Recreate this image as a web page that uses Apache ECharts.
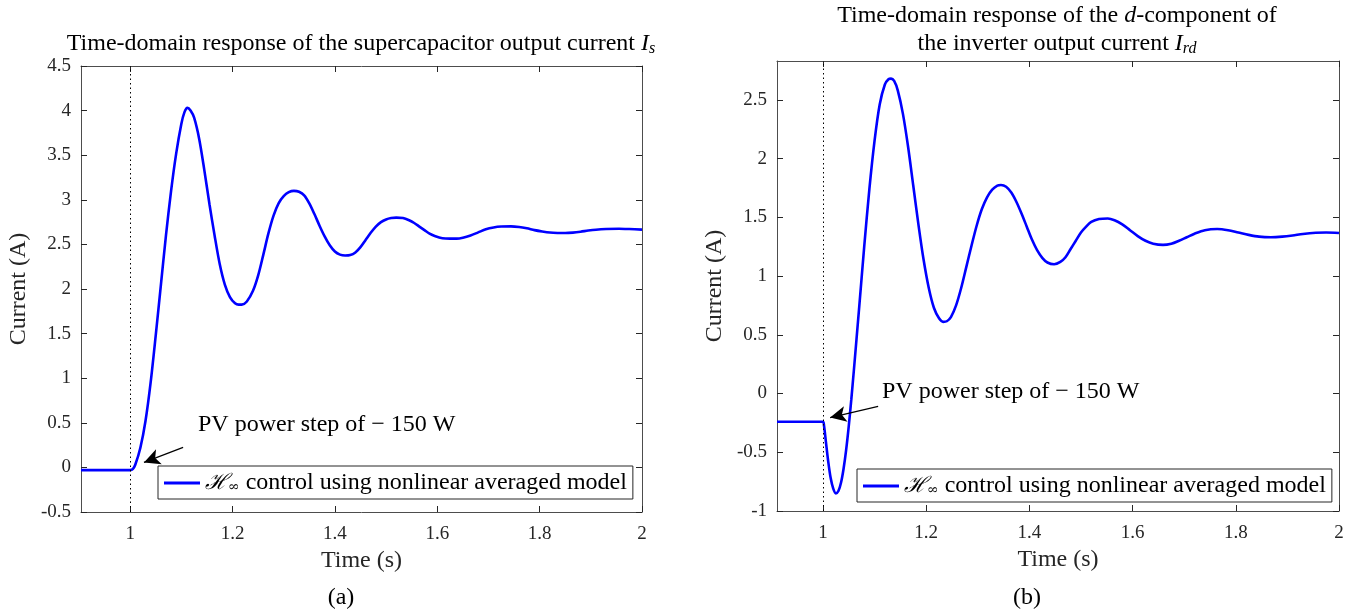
<!DOCTYPE html>
<html><head><meta charset="utf-8">
<script src="https://cdn.jsdelivr.net/npm/echarts@6/dist/echarts.min.js"></script>
<style>html,body{margin:0;padding:0;background:#fff}#c{width:1356px;height:614px}</style>
</head><body><div id="c"></div>
<script>
// ---- data ----
const timeA = [0.904,1.000,1.005,1.010,1.020,1.030,1.040,1.050,1.060,1.070,1.080,1.090,1.100,1.106,1.112,1.118,1.125,1.135,1.145,1.155,1.165,1.175,1.185,1.195,1.205,1.212,1.218,1.228,1.240,1.250,1.260,1.270,1.280,1.290,1.300,1.310,1.320,1.330,1.340,1.350,1.360,1.370,1.380,1.390,1.400,1.410,1.420,1.430,1.440,1.450,1.460,1.470,1.480,1.490,1.500,1.510,1.520,1.533,1.545,1.555,1.565,1.575,1.585,1.595,1.610,1.625,1.638,1.650,1.665,1.680,1.695,1.710,1.725,1.744,1.760,1.775,1.790,1.805,1.820,1.835,1.850,1.865,1.880,1.895,1.910,1.930,1.955,1.975,2.000];
const currentA = [-0.03,-0.03,-0.02,0.03,0.22,0.52,0.95,1.48,2.04,2.6,3.1,3.52,3.85,3.98,4.03,4.0,3.92,3.68,3.33,2.95,2.6,2.28,2.05,1.91,1.84,1.825,1.825,1.86,1.98,2.15,2.38,2.62,2.82,2.96,3.04,3.085,3.1,3.09,3.05,2.96,2.84,2.71,2.59,2.49,2.42,2.385,2.375,2.38,2.41,2.47,2.55,2.63,2.7,2.75,2.78,2.795,2.8,2.795,2.77,2.74,2.70,2.66,2.62,2.595,2.57,2.565,2.565,2.575,2.6,2.635,2.67,2.69,2.70,2.702,2.695,2.68,2.66,2.645,2.633,2.628,2.627,2.632,2.642,2.655,2.665,2.672,2.675,2.672,2.666];

const timeB = [0.911,1.000,1.002,1.006,1.010,1.015,1.020,1.025,1.030,1.035,1.040,1.045,1.050,1.055,1.060,1.070,1.080,1.090,1.100,1.110,1.120,1.127,1.132,1.138,1.145,1.155,1.165,1.175,1.185,1.195,1.205,1.215,1.225,1.233,1.240,1.248,1.258,1.268,1.278,1.288,1.298,1.308,1.318,1.328,1.338,1.345,1.355,1.365,1.375,1.385,1.395,1.405,1.415,1.425,1.435,1.448,1.460,1.470,1.480,1.490,1.500,1.510,1.520,1.535,1.552,1.565,1.580,1.595,1.610,1.625,1.640,1.659,1.675,1.690,1.705,1.720,1.740,1.764,1.785,1.805,1.825,1.845,1.868,1.890,1.910,1.930,1.955,1.975,2.000];
const currentB = [-0.24,-0.24,-0.27,-0.42,-0.57,-0.72,-0.81,-0.85,-0.83,-0.76,-0.64,-0.48,-0.28,-0.05,0.2,0.72,1.25,1.74,2.15,2.46,2.63,2.675,2.68,2.66,2.58,2.38,2.1,1.77,1.44,1.14,0.9,0.73,0.64,0.61,0.615,0.65,0.75,0.9,1.08,1.26,1.43,1.57,1.67,1.735,1.77,1.775,1.76,1.71,1.63,1.53,1.42,1.31,1.22,1.155,1.115,1.1,1.12,1.16,1.23,1.3,1.37,1.42,1.46,1.485,1.49,1.475,1.44,1.39,1.34,1.3,1.275,1.265,1.275,1.3,1.33,1.36,1.39,1.4,1.39,1.37,1.35,1.335,1.33,1.335,1.345,1.358,1.368,1.37,1.366];

const xTicks = [1, 1.2, 1.4, 1.6, 1.8, 2];
const yTicksA = [-0.5, 0, 0.5, 1, 1.5, 2, 2.5, 3, 3.5, 4, 4.5];
const yTicksB = [-1, -0.5, 0, 0.5, 1, 1.5, 2, 2.5];
const stepTime = 1;
const arrowA = [[1.1035, 0.224], [1.027, 0.056]];
const arrowB = [[1.107, -0.11], [1.014, -0.205]];

// ---- chart ----
const FONT = "'Liberation Serif', 'DejaVu Serif', serif";
const TXT = '#262626';
const pair = (xs, ys) => xs.map((x, i) => [x, ys[i]]);

function xAxisPair(grid, min, max) {
  const base = {
    type: 'value', gridIndex: grid, min: min, max: max,
    axisLine: {show: true, onZero: false, lineStyle: {color: '#4d4d4d', width: 1}},
    axisTick: {show: true, inside: true, length: 6, customValues: xTicks, lineStyle: {color: '#262626'}},
    splitLine: {show: false}
  };
  return [
    Object.assign({}, base, {position: 'bottom',
      axisLabel: {customValues: xTicks, fontFamily: FONT, fontSize: 19, color: TXT, margin: 13},
      name: 'Time (s)', nameLocation: 'middle', nameGap: 33,
      nameTextStyle: {fontFamily: FONT, fontSize: 24, color: TXT}}),
    Object.assign({}, base, {position: 'top', axisLabel: {show: false}})
  ];
}
function yAxisPair(grid, min, max, ticks) {
  const base = {
    type: 'value', gridIndex: grid, min: min, max: max,
    axisLine: {show: true, onZero: false, lineStyle: {color: '#4d4d4d', width: 1}},
    axisTick: {show: true, inside: true, length: 6, customValues: ticks, lineStyle: {color: '#262626'}},
    splitLine: {show: false}
  };
  return [
    Object.assign({}, base, {position: 'left',
      axisLabel: {customValues: ticks, fontFamily: FONT, fontSize: 19, color: TXT, margin: 10},
      name: 'Current (A)', nameLocation: 'middle', nameGap: 50, nameRotate: 90,
      nameTextStyle: {fontFamily: FONT, fontSize: 24, color: TXT}}),
    Object.assign({}, base, {position: 'right', axisLabel: {show: false}})
  ];
}

function markLines(arrow) {
  return {
    silent: true, animation: false,
    symbol: ['none', 'none'],
    label: {show: false},
    emphasis: {disabled: true},
    data: [
      {xAxis: stepTime, lineStyle: {type: [1.5, 3], color: '#000', width: 1}},
      [{coord: arrow[0], symbol: 'none', lineStyle: {type: 'solid', color: '#000', width: 1.2}},
       {coord: arrow[1], symbol: 'arrow', symbolSize: [12, 16]}]
    ]
  };
}

const richLegend = {
  h: {fontFamily: "'DejaVu Serif', serif", fontStyle: 'italic', fontSize: 22, color: '#000'},
  s: {fontFamily: "'DejaVu Serif', serif", fontSize: 14, color: '#000', padding: [9, 0, 0, 0]},
  t: {fontFamily: FONT, fontSize: 24, color: '#000'}
};
const legendFmt = () => '{h|ℋ}{s|∞}{t| control using nonlinear averaged model}';

const titleRich = {
  n: {fontFamily: FONT, fontSize: 24, fill: '#000'},
  i: {fontFamily: FONT, fontStyle: 'italic', fontSize: 24, fill: '#000'},
  s: {fontFamily: FONT, fontStyle: 'italic', fontSize: 16, fill: '#000', padding: [10, 0, 0, 0]}
};

const chart = echarts.init(document.getElementById('c'), null, {renderer: 'canvas'});
chart.setOption({
  animation: false,
  backgroundColor: '#fff',
  grid: [
    {left: 81, top: 66, width: 561, height: 446},
    {left: 777, top: 61, width: 562, height: 450}
  ],
  xAxis: [].concat(xAxisPair(0, 0.904, 2), xAxisPair(1, 0.911, 2)),
  yAxis: [].concat(yAxisPair(0, -0.5, 4.5, yTicksA), yAxisPair(1, -1, 2.83, yTicksB)),
  legend: [
    {data: ['A'], left: 158, top: 466, icon: 'rect', itemWidth: 36, itemHeight: 3, itemGap: 4,
     padding: [5, 6, 4, 6], borderColor: '#262626', borderWidth: 1, backgroundColor: '#fff',
     formatter: legendFmt, textStyle: {rich: richLegend}},
    {data: ['B'], left: 857, top: 469, icon: 'rect', itemWidth: 36, itemHeight: 3, itemGap: 4,
     padding: [5, 6, 4, 6], borderColor: '#262626', borderWidth: 1, backgroundColor: '#fff',
     formatter: legendFmt, textStyle: {rich: richLegend}}
  ],
  series: [
    {name: 'A', type: 'line', xAxisIndex: 0, yAxisIndex: 0, data: pair(timeA, currentA),
     showSymbol: false, symbol: 'none', smooth: 0.3, lineStyle: {color: '#0000ff', width: 2.6},
     itemStyle: {color: '#0000ff'}, markLine: markLines(arrowA)},
    {name: 'B', type: 'line', xAxisIndex: 2, yAxisIndex: 2, data: pair(timeB, currentB),
     showSymbol: false, symbol: 'none', smooth: 0.3, lineStyle: {color: '#0000ff', width: 2.6},
     itemStyle: {color: '#0000ff'}, markLine: markLines(arrowB)}
  ],
  graphic: [
    {type: 'text', x: 361, y: 44, style: {
      text: '{n|Time-domain response of the supercapacitor output current }{i|I}{s|s}',
      align: 'center', verticalAlign: 'middle', rich: titleRich}},
    {type: 'text', x: 1057, y: 16, style: {
      text: '{n|Time-domain response of the }{i|d}{n|-component of}',
      align: 'center', verticalAlign: 'middle', rich: titleRich}},
    {type: 'text', x: 1057, y: 44, style: {
      text: '{n|the inverter output current }{i|I}{s|rd}',
      align: 'center', verticalAlign: 'middle', rich: titleRich}},
    {type: 'text', x: 198, y: 425, style: {text: 'PV power step of − 150 W', font: "24px 'Liberation Serif'", fill: '#000', verticalAlign: 'middle'}},
    {type: 'text', x: 882, y: 392, style: {text: 'PV power step of − 150 W', font: "24px 'Liberation Serif'", fill: '#000', verticalAlign: 'middle'}},
    {type: 'text', x: 341, y: 598, style: {text: '(a)', font: "24px 'Liberation Serif'", fill: '#000', align: 'center', verticalAlign: 'middle'}},
    {type: 'text', x: 1027, y: 598, style: {text: '(b)', font: "24px 'Liberation Serif'", fill: '#000', align: 'center', verticalAlign: 'middle'}}
  ]
});
</script></body></html>
